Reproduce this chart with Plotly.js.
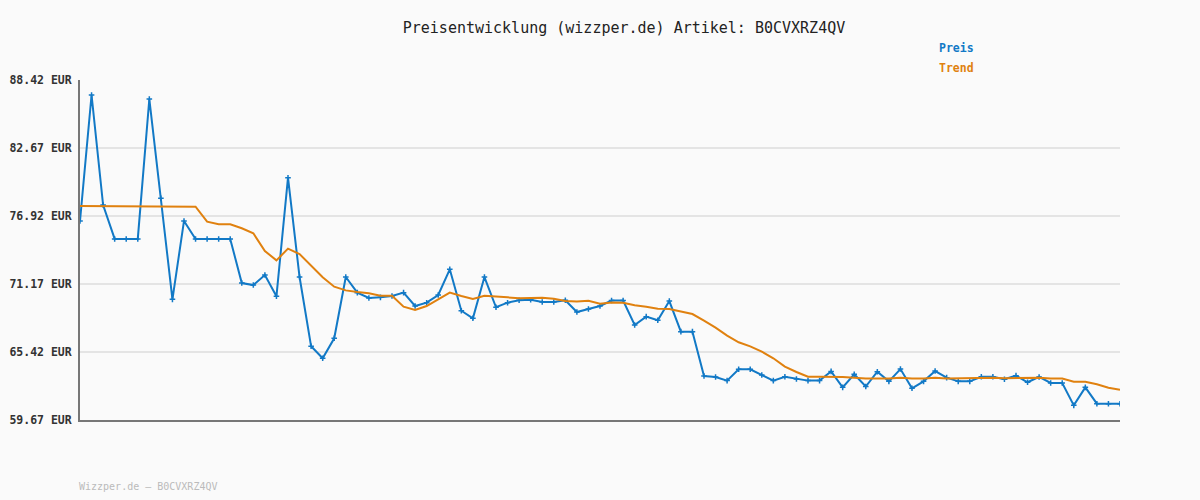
<!DOCTYPE html>
<html>
<head>
<meta charset="utf-8">
<script src="https://cdn.plot.ly/plotly-3.0.1.min.js"></script>
<style>html,body{margin:0;padding:0;background:#fafafa;}#chart{width:1200px;height:500px;}</style>
</head>
<body>
<div id="chart"></div>
<script>
const preis = [76.5,87.15,77.85,74.98,74.98,74.98,86.81,78.42,69.87,76.5,
74.98,74.98,74.98,74.98,71.25,71.08,71.93,70.13,80.16,71.76,
65.9,64.89,66.58,71.76,70.44,69.99,70.04,70.15,70.44,69.31,
69.59,70.24,72.41,68.91,68.27,71.76,69.2,69.59,69.79,69.84,
69.65,69.65,69.79,68.8,69.06,69.31,69.77,69.77,67.7,68.41,
68.1,69.73,67.14,67.14,63.39,63.31,63.0,63.96,63.96,63.47,
63.0,63.33,63.14,63.0,63.0,63.78,62.43,63.53,62.5,63.75,
62.94,63.98,62.35,62.94,63.81,63.25,62.94,62.94,63.33,63.33,
63.11,63.42,62.86,63.31,62.8,62.8,60.91,62.43,61.05,61.05,61.05];
const trend = [77.77,77.77,77.77,77.77,77.77,77.77,77.77,77.77,77.77,77.77,
77.71,76.44,76.22,76.22,75.88,75.46,73.96,73.17,74.16,73.7,
72.72,71.74,70.94,70.63,70.49,70.38,70.18,70.18,69.25,68.97,
69.31,69.87,70.44,70.15,69.9,70.18,70.13,70.04,69.96,70.01,
70.01,69.93,69.73,69.68,69.76,69.5,69.6,69.59,69.37,69.25,
69.08,69.06,68.83,68.63,68.07,67.48,66.8,66.24,65.9,65.45,
64.89,64.18,63.73,63.33,63.33,63.33,63.31,63.25,63.17,63.17,
63.17,63.25,63.17,63.17,63.25,63.17,63.2,63.17,63.25,63.25,
63.2,63.2,63.2,63.25,63.17,63.17,62.91,62.91,62.69,62.4,62.23];
const tickValues = [59.67,65.42,71.17,76.92,82.67,88.42];
const tickLabels = ["59.67 EUR","65.42 EUR","71.17 EUR","76.92 EUR","82.67 EUR","88.42 EUR"];
const xIdx = preis.map((_, i) => i);

const blue = "#1279c6", orange = "#e0810f";
const mono = "DejaVu Sans Mono, monospace";

const traces = [
  {x: xIdx, y: preis, type: "scatter", mode: "lines+markers", name: "Preis",
   line: {color: blue, width: 2}, marker: {color: blue, size: 4, symbol: "cross-thin", line: {color: blue, width: 1.5}}},
  {x: xIdx, y: trend, type: "scatter", mode: "lines", name: "Trend",
   line: {color: orange, width: 2}}
];

const layout = {
  width: 1200, height: 500,
  paper_bgcolor: "#fafafa", plot_bgcolor: "#fafafa",
  margin: {l: 80, r: 80, t: 80, b: 80},
  showlegend: false,
  title: {text: "Preisentwicklung (wizzper.de) Artikel: B0CVXRZ4QV",
          font: {family: mono, size: 15, color: "#222"},
          x: 0.52, xanchor: "center", y: 0.944, yanchor: "middle", xref: "container", yref: "container"},
  xaxis: {range: [0, 90], showgrid: false, zeroline: false, showticklabels: false,
          showline: true, linecolor: "#777", linewidth: 2, ticks: ""},
  yaxis: {range: [59.67, 88.42], tickvals: tickValues, ticktext: tickLabels,
          showgrid: true, gridcolor: "#e4e4e4", gridwidth: 2, zeroline: false,
          showline: true, linecolor: "#777", linewidth: 2, ticks: "", ticklabelstandoff: 4,
          tickfont: {family: mono, size: 11.5, color: "#333", weight: "bold"}},
  annotations: [
    {text: "<b>Preis</b>", xref: "paper", yref: "paper", x: 0.8245, y: 1.094, xanchor: "left", yanchor: "middle",
     showarrow: false, font: {family: mono, size: 11.5, color: blue}},
    {text: "<b>Trend</b>", xref: "paper", yref: "paper", x: 0.8245, y: 1.035, xanchor: "left", yanchor: "middle",
     showarrow: false, font: {family: mono, size: 11.5, color: orange}},
    {text: "Wizzper.de – B0CVXRZ4QV", xref: "paper", yref: "paper", x: -0.003, y: -0.197, xanchor: "left", yanchor: "middle",
     showarrow: false, font: {family: mono, size: 10, color: "#bbb"}}
  ]
};

Plotly.newPlot("chart", traces, layout, {displayModeBar: false, staticPlot: true});
</script>
</body>
</html>
